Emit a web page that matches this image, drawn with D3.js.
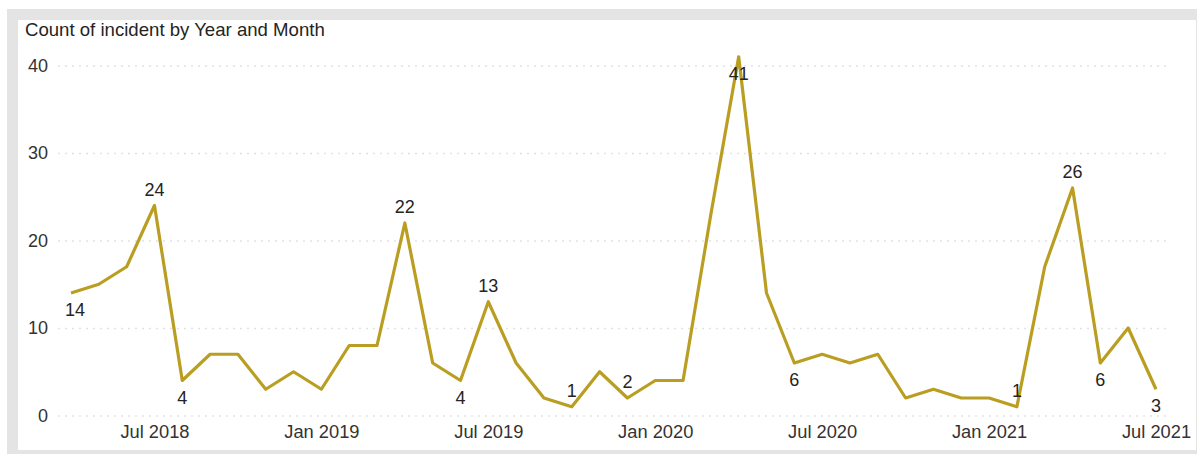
<!DOCTYPE html>
<html>
<head>
<meta charset="utf-8">
<script src="https://cdn.jsdelivr.net/npm/d3@7"></script>
<style>
  html, body { margin: 0; padding: 0; background: #ffffff; }
  svg { display: block; }
  text { font-family: "Liberation Sans", Arial, sans-serif; }
</style>
</head>
<body>
<svg id="chart" width="1197" height="454"></svg>
<script>
// ---- data ----
const months = [
  "Apr 2018","May 2018","Jun 2018","Jul 2018","Aug 2018","Sep 2018","Oct 2018","Nov 2018","Dec 2018",
  "Jan 2019","Feb 2019","Mar 2019","Apr 2019","May 2019","Jun 2019","Jul 2019","Aug 2019","Sep 2019","Oct 2019","Nov 2019","Dec 2019",
  "Jan 2020","Feb 2020","Mar 2020","Apr 2020","May 2020","Jun 2020","Jul 2020","Aug 2020","Sep 2020","Oct 2020","Nov 2020","Dec 2020",
  "Jan 2021","Feb 2021","Mar 2021","Apr 2021","May 2021","Jun 2021","Jul 2021"
];
const counts = [
  14, 15, 17, 24, 4, 7, 7, 3, 5,
  3, 8, 8, 22, 6, 4, 13, 6, 2, 1, 5, 2,
  4, 4, 23, 41, 14, 6, 7, 6, 7, 2, 3, 2,
  2, 1, 17, 26, 6, 10, 3
];
const xTickLabels = ["Jul 2018","Jan 2019","Jul 2019","Jan 2020","Jul 2020","Jan 2021","Jul 2021"];
const yTickValues = [0, 10, 20, 30, 40];
const labelledMonths = ["Apr 2018","Jul 2018","Aug 2018","Apr 2019","Jun 2019","Jul 2019","Oct 2019","Dec 2019",
                        "Apr 2020","Jun 2020","Feb 2021","Apr 2021","May 2021","Jul 2021"];
const labelSide = ["below","above","below","above","below","above","above","above",
                   "below","below","above","above","below","below"];
const titleText = "Count of incident by Year and Month";

// ---- layout ----
const svg = d3.select("#chart");
const W = 1197, H = 454;
const lineColor = "#BA9E22";
const textColor = "#252423";

// frame
svg.append("rect").attr("x", 7).attr("y", 9).attr("width", W - 7).attr("height", H - 9).attr("fill", "#e4e4e4");
svg.append("rect").attr("x", 18).attr("y", 20).attr("width", 1196 - 18).attr("height", 450 - 20).attr("fill", "#ffffff");

svg.append("text")
  .attr("x", 25).attr("y", 36)
  .attr("font-size", 18.6).attr("fill", textColor)
  .text(titleText);

const x = d3.scalePoint().domain(months).range([71, 1156]);
const y = d3.scaleLinear().domain([0, 40]).range([415.5, 65.5]);

const gridLeft = 58, gridRight = 1166;

// y axis with dotted gridlines
const yAxis = svg.append("g")
  .attr("transform", `translate(${gridLeft},0)`)
  .call(d3.axisLeft(y).tickValues(yTickValues).tickSize(-(gridRight - gridLeft)).tickPadding(10).tickFormat(d3.format("d")));
yAxis.select(".domain").remove();
yAxis.selectAll(".tick line")
  .attr("stroke", "#e2e2e2").attr("stroke-width", 1.5).attr("stroke-dasharray", "2,5");
yAxis.selectAll(".tick text")
  .attr("font-size", 18).attr("fill", "#333333").attr("font-family", "Liberation Sans, Arial, sans-serif");

// x axis
const xAxis = svg.append("g")
  .attr("transform", `translate(0,${y(0)})`)
  .call(d3.axisBottom(x).tickValues(xTickLabels).tickSize(0).tickPadding(10));
xAxis.select(".domain").remove();
xAxis.selectAll(".tick text")
  .attr("font-size", 18.3).attr("fill", "#333333").attr("font-family", "Liberation Sans, Arial, sans-serif");

// line
const data = months.map((m, i) => ({ m, v: counts[i] }));
const line = d3.line().x(d => x(d.m)).y(d => y(d.v));
svg.append("path")
  .datum(data)
  .attr("d", line)
  .attr("fill", "none")
  .attr("stroke", lineColor)
  .attr("stroke-width", 3.2)
  .attr("stroke-linejoin", "round")
  .attr("stroke-linecap", "butt");

// data labels
const labels = labelledMonths.map((m, i) => ({ m, v: counts[months.indexOf(m)], side: labelSide[i] }));
svg.append("g").selectAll("text")
  .data(labels)
  .join("text")
  .attr("x", (d, i) => x(d.m) + (i === 0 ? 4 : 0))
  .attr("y", d => d.side === "above" ? y(d.v) - 10 : y(d.v) + 23)
  .attr("text-anchor", "middle")
  .attr("font-size", 18)
  .attr("fill", textColor)
  .text(d => d.v);
</script>
</body>
</html>
